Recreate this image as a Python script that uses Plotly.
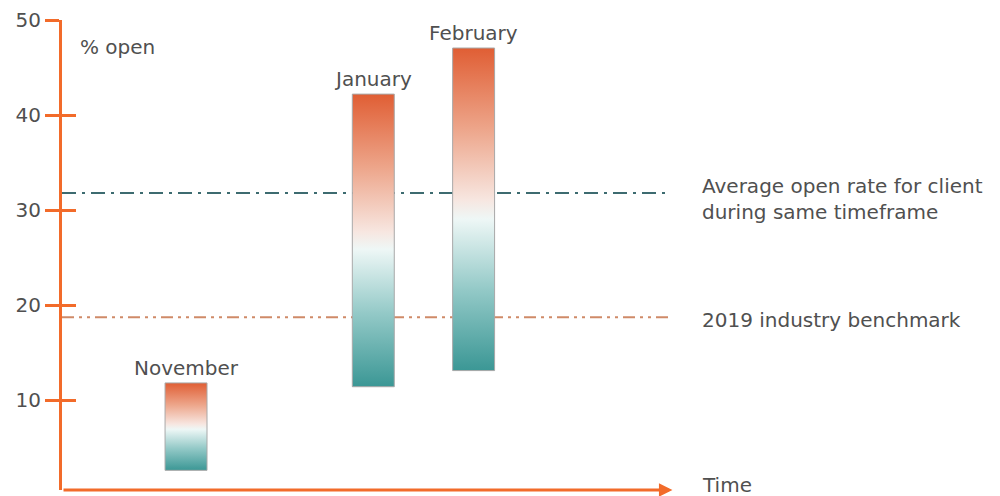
import plotly.graph_objects as go

# Monthly open-rate ranges (% open)
months = ["November", "January", "February"]
range_low = [2.6, 11.4, 13.1]
range_high = [11.8, 42.2, 47.05]

# Reference levels
client_average = 31.8
industry_benchmark = 18.7
client_average_label = "Average open rate for client<br>during same timeframe"
benchmark_label = "2019 industry benchmark"

y_ticks = [10, 20, 30, 40, 50]

# Layout of the time axis (arbitrary time units)
month_positions = [2.04, 5.12, 6.77]
bar_width = 0.69
x_range = [0, 10]
y_range = [0.53, 50]

AXIS_ORANGE = "#f26b2a"
TEXT_GREY = "#505050"
FONT = "DejaVu Sans"
gradient = [[0.0, "#3b9795"], [0.25, "#93c9c7"], [0.47, "#eef7f6"],
            [0.53, "#f7e6e0"], [0.75, "#eda58a"], [1.0, "#e05e34"]]

fig = go.Figure()

# Reference lines (drawn first so the bars sit on top)
fig.add_trace(go.Scatter(
    x=x_range, y=[client_average, client_average], mode="lines",
    line=dict(color="#3d6b70", width=2, dash="14px,6px,3px,6px"),
    hoverinfo="skip", showlegend=False))
fig.add_trace(go.Scatter(
    x=x_range, y=[industry_benchmark, industry_benchmark], mode="lines",
    line=dict(color="#cf8a68", width=2, dash="12px,5px,3px,5px,3px,5px"),
    hoverinfo="skip", showlegend=False))

# Gradient-filled range bars
for name, pos, lo, hi in zip(months, month_positions, range_low, range_high):
    x0, x1 = pos - bar_width / 2, pos + bar_width / 2
    fig.add_trace(go.Scatter(
        x=[x0, x1, x1, x0, x0], y=[lo, lo, hi, hi, lo],
        mode="lines", fill="toself",
        fillgradient=dict(type="vertical", colorscale=gradient),
        line=dict(color="#a8a8a8", width=1),
        name=name, showlegend=False, hoverinfo="skip"))
    fig.add_annotation(x=pos, y=hi, text=name, showarrow=False,
                       xref="x", yref="y", yanchor="bottom", yshift=1,
                       font=dict(family=FONT, size=20, color=TEXT_GREY))

# Labels for the reference lines
fig.add_annotation(x=1.049, y=client_average, xref="paper", yref="y",
                   text=client_average_label, showarrow=False, align="left",
                   xanchor="left", yanchor="middle", yshift=-6,
                   font=dict(family=FONT, size=20, color=TEXT_GREY))
fig.add_annotation(x=1.049, y=industry_benchmark, xref="paper", yref="y",
                   text=benchmark_label, showarrow=False, align="left",
                   xanchor="left", yanchor="middle", yshift=-3,
                   font=dict(family=FONT, size=20, color=TEXT_GREY))

# Axis titles
fig.add_annotation(x=0.026, y=50, xref="paper", yref="y", text="% open",
                   showarrow=False, xanchor="left", yanchor="top", yshift=-13,
                   font=dict(family=FONT, size=20, color=TEXT_GREY))
fig.add_annotation(x=1.049, y=0, xref="paper", yref="paper", text="Time",
                   showarrow=False, xanchor="left", yanchor="middle", yshift=5,
                   font=dict(family=FONT, size=20, color=TEXT_GREY))

# Time axis drawn as an arrow
fig.add_annotation(x=1.004, y=0, ax=0, ay=0, xref="x domain", yref="y domain",
                   axref="x domain", ayref="y domain", text="", showarrow=True,
                   arrowhead=2, arrowsize=0.9, arrowwidth=3,
                   arrowcolor=AXIS_ORANGE, standoff=0, startstandoff=0)

fig.update_layout(
    width=1000, height=496,
    margin=dict(l=62, r=330, t=20, b=6),
    plot_bgcolor="white", paper_bgcolor="white",
    xaxis=dict(range=x_range, visible=False, fixedrange=True),
    yaxis=dict(range=y_range, tickvals=y_ticks, ticks="outside",
               ticklen=14, tickwidth=3, tickcolor=AXIS_ORANGE,
               showline=True, linecolor=AXIS_ORANGE, linewidth=3,
               showgrid=False, zeroline=False,
               tickfont=dict(family=FONT, size=20, color=TEXT_GREY)),
    yaxis2=dict(range=y_range, tickvals=y_ticks, ticks="inside",
                ticklen=14, tickwidth=3, tickcolor=AXIS_ORANGE,
                overlaying="y", side="left", showticklabels=False,
                showgrid=False, zeroline=False, showline=False),
)

# Invisible trace that anchors the second y-axis (inside tick marks)
fig.add_trace(go.Scatter(x=[None], y=[None], yaxis="y2", showlegend=False,
                         hoverinfo="skip"))

fig.write_html("out.html")
